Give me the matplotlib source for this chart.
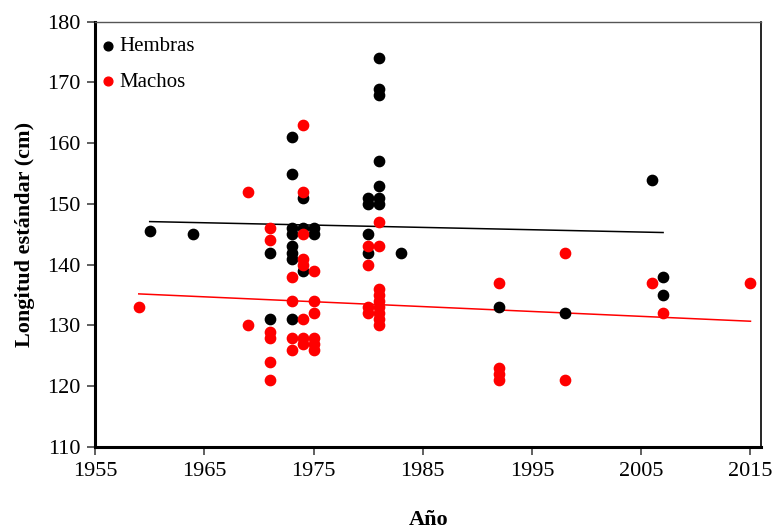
import numpy as np
import matplotlib
matplotlib.use("Agg")
import matplotlib.pyplot as plt

# Hembras (females): year, standard length (cm)
hembras_year = [1960, 1964, 1971, 1971,
                1973, 1973, 1973, 1973, 1973, 1973, 1973, 1973,
                1974, 1974, 1974, 1975, 1975,
                1980, 1980, 1980, 1980,
                1981, 1981, 1981, 1981, 1981, 1981, 1981,
                1983, 1992, 1998, 2006, 2007, 2007]
hembras_len = [145.5, 145, 142, 131,
               161, 155, 146, 145, 143, 142, 141, 131,
               151, 146, 139, 146, 145,
               151, 150, 145, 142,
               174, 169, 168, 157, 153, 151, 150,
               142, 133, 132, 154, 138, 135]

# Machos (males)
machos_year = [1959, 1969, 1969,
               1971, 1971, 1971, 1971, 1971, 1971,
               1973, 1973, 1973, 1973,
               1974, 1974, 1974, 1974, 1974, 1974, 1974, 1974,
               1975, 1975, 1975, 1975, 1975, 1975,
               1980, 1980, 1980, 1980,
               1981, 1981, 1981, 1981, 1981, 1981, 1981, 1981, 1981,
               1992, 1992, 1992, 1992, 1998, 1998, 2006, 2007, 2015]
machos_len = [133, 152, 130,
              146, 144, 129, 128, 124, 121,
              138, 134, 128, 126,
              163, 152, 145, 141, 140, 131, 128, 127,
              139, 134, 132, 128, 127, 126,
              143, 140, 133, 132,
              147, 143, 136, 135, 134, 133, 132, 131, 130,
              137, 123, 122, 121, 142, 121, 137, 132, 137]

# trend lines as drawn in the original (start/end year and value)
trend_hembras_year = [1960, 2007]
trend_hembras_len = [147.1, 145.3]
trend_machos_year = [1959, 2015]
trend_machos_len = [135.2, 130.7]

x_ticks = [1955, 1965, 1975, 1985, 1995, 2005, 2015]
y_ticks = [110, 120, 130, 140, 150, 160, 170, 180]

plt.rcParams['font.family'] = ['Liberation Serif', 'DejaVu Serif']

fig = plt.figure(figsize=(7.73, 5.29), dpi=100)
ax = fig.add_axes([0.123, 0.155, 0.862, 0.804])

ax.scatter(hembras_year, hembras_len, s=55, color='black', label='Hembras', zorder=3)
ax.scatter(machos_year, machos_len, s=55, color='red', label='Machos', zorder=3)

ax.plot(trend_hembras_year, trend_hembras_len, color='black', lw=1.1, zorder=2)
ax.plot(trend_machos_year, trend_machos_len, color='red', lw=1.1, zorder=2)

ax.set_xlim(1955, 2016)
ax.set_ylim(110, 180)
ax.set_xticks(x_ticks)
ax.set_yticks(y_ticks)
ax.tick_params(labelsize=16, direction='out', length=5.5, width=1.2, color='#444444', pad=5)

ax.spines['left'].set_linewidth(2.2)
ax.spines['bottom'].set_linewidth(2.2)
ax.spines['top'].set_linewidth(1.0)
ax.spines['top'].set_color('#555555')
ax.spines['right'].set_linewidth(1.2)

ax.set_xlabel('Año', fontsize=16, fontweight='bold', labelpad=21)
ax.set_ylabel('Longitud estándar (cm)', fontsize=16, fontweight='bold', labelpad=9)

ax.legend(loc='upper left', frameon=False, fontsize=15, markerscale=0.85,
          handlelength=0.8, handletextpad=0.15, borderpad=0.4, borderaxespad=0.0,
          labelspacing=0.78, bbox_to_anchor=(-0.005, 0.985))

fig.savefig('out.png', dpi=100)
